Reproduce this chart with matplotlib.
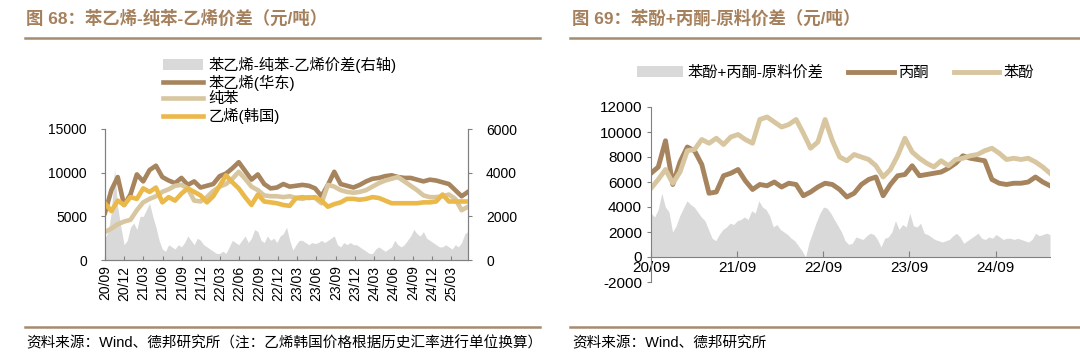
import numpy as np
import pandas as pd
import matplotlib
matplotlib.use('Agg')
import matplotlib.pyplot as plt
import matplotlib.dates as mdates
from matplotlib.lines import Line2D
from matplotlib.patches import Patch

plt.rcParams['font.family'] = ['Liberation Sans', 'Noto Sans CJK SC']
plt.rcParams['axes.unicode_minus'] = False

BROWN = '#A6845E'
TAN = '#D8C6A0'
YELLOW = '#EBB84A'
GREY = '#D9D9D9'
TITLE_C = '#A5805C'
RULE_C = '#A58B70'
SPINE_C = '#808080'

# ---- figure 68: styrene - benzene - ethylene (monthly, 2020-09 .. 2025-05)
styrene = [5400, 8000, 9500, 6300, 7500, 9800, 9000, 10300, 10800, 9500,
           9100, 8800, 9400, 8600, 9000, 8300, 8500, 8700, 9600, 9900,
           10500, 11200, 10200, 9200, 9800, 8700, 8200, 8300, 8700, 8400,
           8500, 8600, 8500, 8200, 7300, 8600, 10100, 8700, 8500, 8300,
           8600, 9000, 9300, 9400, 9600, 9700, 9500, 9400, 9400, 9200,
           9000, 9200, 9100, 8900, 8700, 8000, 7300, 7800]
benzene = [3200, 3600, 4100, 4400, 4600, 5700, 6600, 7000, 7300, 7800,
           8100, 8500, 8600, 8200, 6800, 6700, 7200, 7900, 8400, 8700,
           9300, 10100, 9300, 8400, 8000, 7400, 7300, 7300, 7200, 7300,
           7100, 7000, 7200, 7100, 6500, 8600, 8400, 8000, 7800, 7700,
           7800, 8000, 8400, 8800, 9100, 9300, 9500, 9000, 8500, 8000,
           7400, 7200, 7200, 7300, 7500, 7000, 5700, 6100]
ethylene = [6500, 5600, 6800, 6300, 7200, 7000, 8200, 7800, 8300, 6600,
            7200, 6800, 7600, 8200, 7800, 7400, 6600, 7300, 8500, 9700,
            8900, 8200, 7200, 6300, 7500, 6700, 6600, 6500, 6300, 6200,
            7100, 7200, 7100, 7200, 6800, 6100, 6400, 6600, 7000, 7000,
            6900, 7000, 7200, 7100, 6800, 6500, 6500, 6500, 6500, 6500,
            6600, 6600, 6700, 7500, 6700, 6700, 6700, 6700]
# spread (right axis), semi-monthly
spread68 = [1000, 1300, 2200, 4200, 2400, 1500, 700, 900, 1500, 1700,
            1400, 2000, 2000, 2300, 2600, 2000, 1500, 900, 500, 400,
            700, 600, 500, 700, 600, 800, 1100, 900, 700, 1000,
            900, 700, 600, 500, 400, 300, 300, 400, 300, 600,
            900, 800, 700, 900, 1100, 800, 1000, 1400, 1300, 900,
            800, 1100, 900, 1000, 800, 1100, 1200, 1500, 900, 450,
            700, 900, 900, 800, 700, 800, 750, 800, 900, 800,
            900, 1000, 1100, 700, 600, 800, 700, 800, 700, 700,
            600, 500, 400, 300, 300, 500, 600, 500, 400, 500,
            600, 900, 700, 600, 700, 900, 1100, 1400, 1200, 1100,
            1300, 1000, 900, 800, 700, 600, 600, 700, 600, 500,
            700, 600, 800, 1200, 1300]

# ---- figure 69: phenol + acetone (monthly, 2020-09 .. 2025-04)
phenol = [5500, 6200, 7000, 5900, 6800, 8500, 8600, 9400, 9100, 9500,
          9000, 9600, 9800, 9400, 9100, 11000, 11200, 10800, 10400, 10600,
          11000, 9900, 8700, 9200, 11000, 9300, 8000, 7700, 8200, 8000,
          7800, 7300, 6400, 7000, 8100, 9500, 8400, 7900, 7500, 7200,
          7700, 7300, 7800, 7900, 8100, 8200, 8500, 8700, 8300, 7800,
          7900, 7800, 7900, 7600, 7200, 6700]
acetone = [6700, 7200, 9300, 5800, 7600, 8800, 8500, 7400, 5100, 5200,
           6500, 6700, 7000, 6100, 5400, 5800, 5700, 6000, 5600, 5900,
           5800, 4900, 5200, 5600, 5900, 5800, 5400, 4800, 5100, 5800,
           6200, 6400, 4900, 5800, 6500, 6600, 7300, 6500, 6600, 6700,
           6800, 7100, 7500, 8100, 7900, 7800, 7700, 6200, 5900, 5800,
           5900, 5900, 6000, 6400, 6000, 5700]
spread69 = [3500, 3200, 3800, 5100, 4000, 3600, 2000, 2500, 3300, 3900,
            4500, 4200, 4000, 3600, 3200, 2900, 2200, 1500, 1300, 1800,
            2200, 2400, 2700, 2600, 2900, 3000, 3200, 3000, 3700, 3500,
            4500, 4000, 3800, 3300, 2400, 2600, 2200, 2000, 1800, 1500,
            1300, 900, 500, 0, 1200, 2000, 2800, 3500, 4000, 3900,
            3500, 3000, 2500, 2000, 1300, 1000, 1100, 1600, 1500, 1400,
            1700, 1900, 1800, 1400, 800, 1500, 1600, 2000, 2900, 2200,
            2600, 2400, 3500, 2500, 2400, 2700, 1900, 1800, 1600, 1400,
            1300, 1200, 1300, 1400, 1700, 1900, 1600, 1100, 1300, 1500,
            1700, 1900, 1500, 1400, 1600, 1500, 1800, 1600, 1400, 1500,
            1500, 1400, 1500, 1400, 1300, 1200, 1400, 1900, 1700, 1800,
            1900, 1800]

START = '2020-09-01'
d68 = pd.date_range(START, '2025-05-20', periods=len(styrene))
s68 = pd.date_range(START, '2025-05-20', periods=len(spread68))
d69 = pd.date_range(START, '2025-04-20', periods=len(phenol))
s69 = pd.date_range(START, '2025-04-20', periods=len(spread69))

fig = plt.figure(figsize=(10.8, 3.6), dpi=100)

# headers / rules / sources
fig.text(26 / 1080, 1 - 18 / 360, '图 68：苯乙烯-纯苯-乙烯价差（元/吨）', color=TITLE_C,
         fontsize=12.5, fontweight='bold', va='center', ha='left')
fig.text(572 / 1080, 1 - 18 / 360, '图 69：苯酚+丙酮-原料价差（元/吨）', color=TITLE_C,
         fontsize=12.5, fontweight='bold', va='center', ha='left')
for x0, x1 in [(25, 540), (570, 1080)]:
    for y in (38, 327):
        fig.add_artist(Line2D([x0 / 1080, x1 / 1080], [1 - y / 360] * 2,
                              color=RULE_C, lw=1.8))
fig.text(26 / 1080, 1 - 343 / 360,
         '资料来源：Wind、德邦研究所（注：乙烯韩国价格根据历史汇率进行单位换算）',
         fontsize=10.5, va='center', ha='left')
fig.text(572 / 1080, 1 - 343 / 360, '资料来源：Wind、德邦研究所',
         fontsize=10.5, va='center', ha='left')

# ---- left chart
ax = fig.add_axes([105 / 1080, 100 / 360, 363 / 1080, 131 / 360])
ax2 = ax.twinx()
ax2.fill_between(s68, spread68, 0, color=GREY, lw=0)
ax2.set_ylim(0, 6000)
ax2.set_yticks([0, 2000, 4000, 6000])
ax.set_zorder(ax2.get_zorder() + 1)
ax.patch.set_visible(False)

ax.plot(d68, styrene, color=BROWN, lw=3.3)
ax.plot(d68, benzene, color=TAN, lw=3.3)
ax.plot(d68, ethylene, color=YELLOW, lw=3.3)
ax.set_ylim(0, 15000)
ax.set_yticks([0, 5000, 10000, 15000])
ax.set_xlim(d68[0], d68[-1])
ax.xaxis.set_major_locator(mdates.MonthLocator(bymonth=[3, 6, 9, 12]))
ax.xaxis.set_major_formatter(mdates.DateFormatter('%y/%m'))
for a in (ax, ax2):
    for sp in a.spines.values():
        sp.set_color(SPINE_C)
        sp.set_linewidth(0.8)
    a.spines['top'].set_visible(False)
    a.tick_params(axis='y', labelsize=10, length=3, color=SPINE_C, pad=10)
ax.tick_params(axis='x', direction='in', length=3, color=SPINE_C,
               labelsize=10, labelrotation=90, pad=4)

h68 = [Patch(color=GREY, lw=0),
       Line2D([], [], color=BROWN, lw=3.3),
       Line2D([], [], color=TAN, lw=3.3),
       Line2D([], [], color=YELLOW, lw=3.3)]
fig.legend(h68, ['苯乙烯-纯苯-乙烯价差(右轴)', '苯乙烯(华东)', '纯苯', '乙烯(韩国)'],
           loc='upper left', bbox_to_anchor=(163 / 1080, 1 - 57 / 360),
           frameon=False, fontsize=11, handlelength=2.6, handletextpad=0.4,
           labelspacing=0.1, borderpad=0, borderaxespad=0)

# ---- right chart
bx = fig.add_axes([651 / 1080, 78 / 360, 399 / 1080, 175 / 360])
bx.fill_between(s69, spread69, 0, color=GREY, lw=0)
bx.plot(d69, acetone, color=BROWN, lw=3.5)
bx.plot(d69, phenol, color=TAN, lw=3.5)
bx.set_ylim(-2000, 12000)
bx.set_yticks(np.arange(-2000, 12001, 2000))
bx.set_xlim(d69[0], d69[-1])
bx.xaxis.set_major_locator(mdates.MonthLocator(bymonth=[9]))
bx.xaxis.set_major_formatter(mdates.DateFormatter('%y/%m'))
bx.spines['top'].set_visible(False)
bx.spines['right'].set_visible(False)
bx.spines['bottom'].set_position(('data', 0))
for sp in ('left', 'bottom'):
    bx.spines[sp].set_color(SPINE_C)
    bx.spines[sp].set_linewidth(0.8)
bx.tick_params(axis='y', labelsize=11, length=3, color=SPINE_C)
bx.tick_params(axis='x', direction='in', length=4, color=SPINE_C,
               labelsize=11, pad=3)

h69 = [Patch(color=GREY, lw=0),
       Line2D([], [], color=BROWN, lw=3.5),
       Line2D([], [], color=TAN, lw=3.5)]
fig.legend(h69, ['苯酚+丙酮-原料价差', '丙酮', '苯酚'], loc='center',
           bbox_to_anchor=(836 / 1080, 1 - 73 / 360), ncol=3, frameon=False,
           fontsize=11, handlelength=3.0, handletextpad=0.3, columnspacing=1.6,
           borderpad=0)

fig.savefig('out.png', dpi=100)
